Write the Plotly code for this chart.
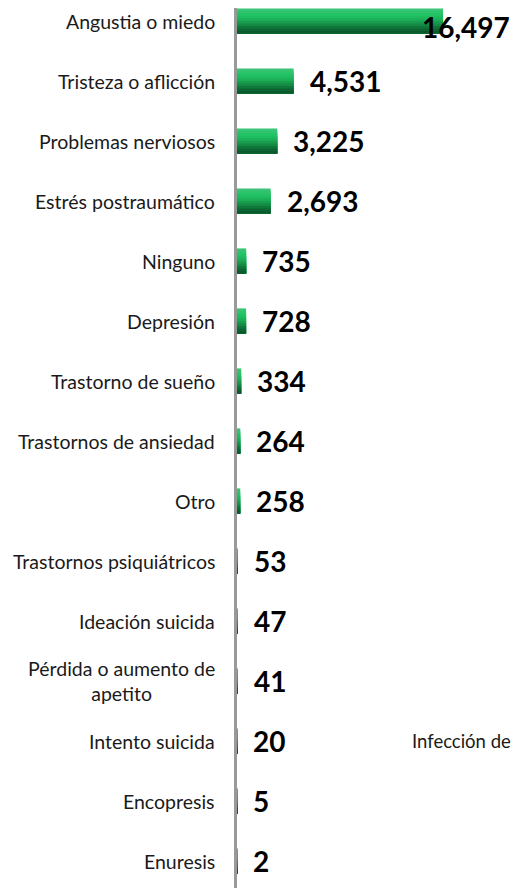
import plotly.graph_objects as go

categories = [
    "Angustia o miedo",
    "Tristeza o aflicción",
    "Problemas nerviosos",
    "Estrés postraumático",
    "Ninguno",
    "Depresión",
    "Trastorno de sueño",
    "Trastornos de ansiedad",
    "Otro",
    "Trastornos psiquiátricos",
    "Ideación suicida",
    "Pérdida o aumento de<br>apetito",
    "Intento suicida",
    "Encopresis",
    "Enuresis",
]
values = [16497, 4531, 3225, 2693, 735, 728, 334, 264, 258, 53, 47, 41, 20, 5, 2]
stray_text = "Infección de"
stray_row = "Intento suicida"

# gradient layers (top -> bottom) to imitate the shaded bars
stripe_colors = ["#38c474", "#2ec46c", "#22c264", "#1ebb5f", "#1bad57",
                 "#189c4e", "#148a45", "#10773b", "#0c6532", "#0a5a2c"]
bar_w = 0.42
n = len(stripe_colors)
sw = bar_w / n

fig = go.Figure()
for i, c in enumerate(stripe_colors):
    fig.add_trace(go.Bar(
        x=values, y=categories, orientation="h",
        marker=dict(color=c, line=dict(width=0)),
        width=bar_w - i * sw, offset=-bar_w / 2 + i * sw,
        hoverinfo="skip", showlegend=False,
    ))

label_font = "Lato, 'Open Sans', sans-serif"
annotations = []
vmax = max(values)
for cat, v in zip(categories, values):
    annotations.append(dict(
        xref="paper", x=0, y=cat, yref="y", xanchor="right", xshift=-20,
        text=cat, showarrow=False, align="center",
        font=dict(family=label_font, size=19.5, color="#1a1a1a"),
    ))
    big = v == vmax
    annotations.append(dict(
        x=v, y=cat, xref="x", yref="y", xanchor="left",
        xshift=-23 if big else 14, yshift=-6 if big else 0,
        text="{:,}".format(v), showarrow=False,
        font=dict(family=label_font, size=28, color="#000000", weight="bold"),
    ))

annotations.append(dict(
    xref="paper", x=(410 - 237) / 288, y=stray_row, yref="y", xanchor="left",
    text=stray_text, showarrow=False,
    font=dict(family=label_font, size=18.5, color="#1a1a1a"),
))

fig.update_layout(
    width=517, height=886,
    margin=dict(l=229, r=0, t=0, b=6),
    paper_bgcolor="white", plot_bgcolor="white",
    barmode="overlay",
    xaxis=dict(range=[0, 23060], visible=False, fixedrange=True),
    yaxis=dict(type="category", categoryorder="array", categoryarray=categories,
               range=[14.45, -0.2167], showticklabels=False, ticks="",
               showgrid=False, zeroline=False,
               showline=True, linecolor="#999999", linewidth=3),
    annotations=annotations,
)

fig.write_html("out.html")
